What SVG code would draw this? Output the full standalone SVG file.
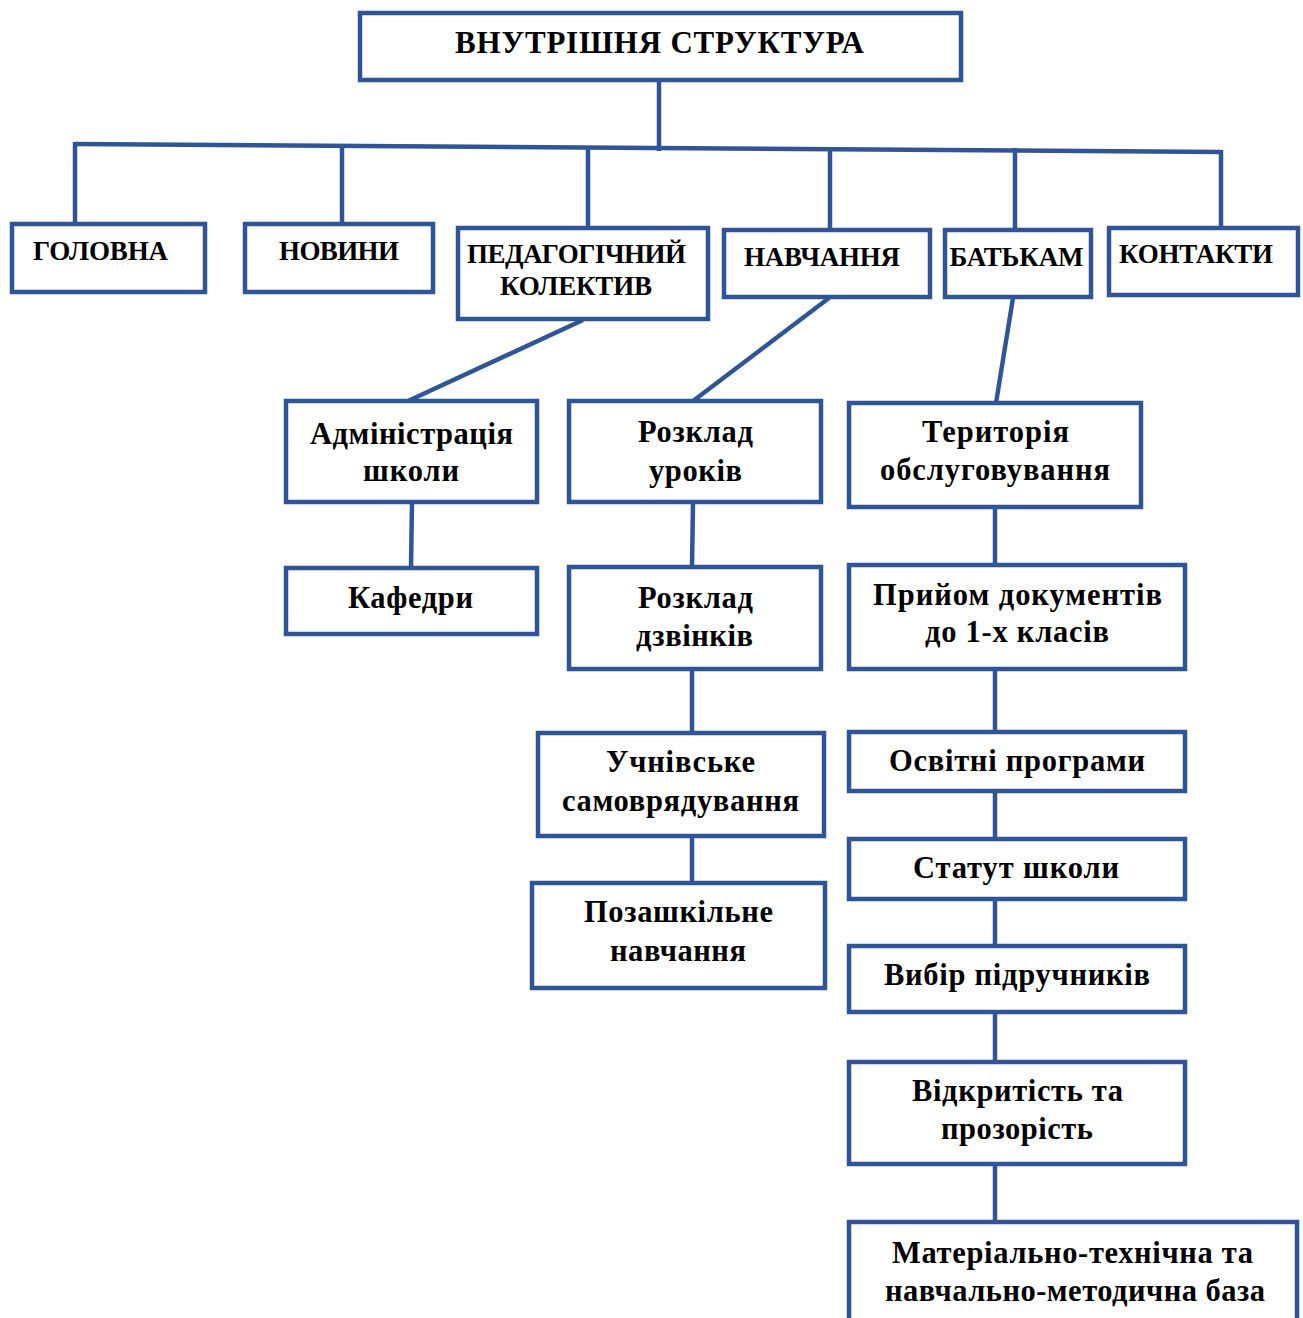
<svg xmlns="http://www.w3.org/2000/svg" width="1303" height="1318" viewBox="0 0 1303 1318">
  <style>
    .box { fill: #ffffff; stroke: #2F5597; stroke-width: 4.5; }
    .link { fill: none; stroke: #2F5597; stroke-width: 4.5; stroke-linecap: butt; }
    text { font-family: "Liberation Serif", "Times New Roman", serif; font-weight: bold; fill: #000000; text-anchor: middle; }
    .t0 { font-size: 31px; }
    .t1 { font-size: 27px; }
    .t2 { font-size: 30.5px; }
  </style>
  <rect width="1303" height="1318" fill="#ffffff"/>

  <!-- connectors -->
  <g id="connectors">
    <line class="link" x1="659" y1="80" x2="659" y2="151"/>
    <path class="link" d="M75,144 L1221,152"/>
    <line class="link" x1="75" y1="142" x2="75" y2="224"/>
    <line class="link" x1="342" y1="144" x2="342" y2="224"/>
    <line class="link" x1="588" y1="146" x2="588" y2="227"/>
    <line class="link" x1="830" y1="147" x2="830" y2="230"/>
    <line class="link" x1="1015" y1="148" x2="1015" y2="230"/>
    <line class="link" x1="1221" y1="150" x2="1221" y2="228"/>
    <!-- second level -->
    <line class="link" x1="583" y1="320" x2="408" y2="401"/>
    <line class="link" x1="829" y1="298" x2="693" y2="401"/>
    <line class="link" x1="1013" y1="298" x2="996" y2="403"/>
    <!-- left column -->
    <line class="link" x1="412" y1="502" x2="411" y2="568"/>
    <!-- middle column -->
    <line class="link" x1="693" y1="502" x2="692" y2="567"/>
    <line class="link" x1="692" y1="669" x2="692" y2="733"/>
    <line class="link" x1="692" y1="836" x2="692" y2="883"/>
    <!-- right column -->
    <line class="link" x1="995" y1="507" x2="995" y2="565"/>
    <line class="link" x1="995" y1="669" x2="995" y2="732"/>
    <line class="link" x1="995" y1="791" x2="995" y2="839"/>
    <line class="link" x1="995" y1="899" x2="995" y2="946"/>
    <line class="link" x1="995" y1="1012" x2="995" y2="1062"/>
    <line class="link" x1="995" y1="1164" x2="995" y2="1222"/>
  </g>

  <!-- root -->
  <g id="root">
    <rect class="box" x="360" y="13" width="601" height="67"/>
    <text class="t0" x="659.5" y="53" textLength="409">ВНУТРІШНЯ СТРУКТУРА</text>
  </g>

  <!-- top-level sections -->
  <g id="holovna">
    <rect class="box" x="12" y="224" width="193" height="68"/>
    <text class="t1" x="100.5" y="260" textLength="135">ГОЛОВНА</text>
  </g>
  <g id="novyny">
    <rect class="box" x="245" y="224" width="188" height="68"/>
    <text class="t1" x="339" y="260" textLength="120">НОВИНИ</text>
  </g>
  <g id="ped-kolektyv">
    <rect class="box" x="458" y="228" width="250" height="91"/>
    <text class="t1" x="576.5" y="263" textLength="219">ПЕДАГОГІЧНИЙ</text>
    <text class="t1" x="576" y="295" textLength="152">КОЛЕКТИВ</text>
  </g>
  <g id="navchannia">
    <rect class="box" x="724" y="230" width="206" height="67"/>
    <text class="t1" x="822" y="266" textLength="156">НАВЧАННЯ</text>
  </g>
  <g id="batkam">
    <rect class="box" x="945" y="230" width="146" height="67"/>
    <text class="t1" x="1016.5" y="266" textLength="134">БАТЬКАМ</text>
  </g>
  <g id="kontakty">
    <rect class="box" x="1109" y="228" width="189" height="67"/>
    <text class="t1" x="1196" y="263" textLength="154">КОНТАКТИ</text>
  </g>

  <!-- left column -->
  <g id="administratsiia">
    <rect class="box" x="286" y="401" width="251" height="101"/>
    <text class="t2" x="411.5" y="444" textLength="203">Адміністрація</text>
    <text class="t2" x="411" y="481" textLength="96">школи</text>
  </g>
  <g id="kafedry">
    <rect class="box" x="286" y="568" width="251" height="66"/>
    <text class="t2" x="410.5" y="608" textLength="125">Кафедри</text>
  </g>

  <!-- middle column -->
  <g id="rozklad-urokiv">
    <rect class="box" x="569" y="401" width="252" height="101"/>
    <text class="t2" x="695.5" y="442" textLength="115">Розклад</text>
    <text class="t2" x="695.5" y="481" textLength="93">уроків</text>
  </g>
  <g id="rozklad-dzvinkiv">
    <rect class="box" x="569" y="567" width="252" height="102"/>
    <text class="t2" x="695.5" y="608" textLength="115">Розклад</text>
    <text class="t2" x="694.5" y="646" textLength="117">дзвінків</text>
  </g>
  <g id="samovriaduvannia">
    <rect class="box" x="538" y="733" width="286" height="103"/>
    <text class="t2" x="680.5" y="772" textLength="149">Учнівське</text>
    <text class="t2" x="680.5" y="811" textLength="237">самоврядування</text>
  </g>
  <g id="pozashkilne">
    <rect class="box" x="532" y="883" width="293" height="105"/>
    <text class="t2" x="678.5" y="922" textLength="189">Позашкільне</text>
    <text class="t2" x="678" y="961" textLength="136">навчання</text>
  </g>

  <!-- right column -->
  <g id="terytoriia">
    <rect class="box" x="849" y="403" width="292" height="104"/>
    <text class="t2" x="995.5" y="442" textLength="147">Територія</text>
    <text class="t2" x="995" y="480" textLength="230">обслуговування</text>
  </g>
  <g id="pryiom">
    <rect class="box" x="849" y="565" width="336" height="104"/>
    <text class="t2" x="1017.5" y="605" textLength="289">Прийом документів</text>
    <text class="t2" x="1017" y="642" textLength="184">до 1-х класів</text>
  </g>
  <g id="osvitni-prohramy">
    <rect class="box" x="849" y="732" width="336" height="59"/>
    <text class="t2" x="1017" y="771" textLength="256">Освітні програми</text>
  </g>
  <g id="statut">
    <rect class="box" x="849" y="839" width="336" height="60"/>
    <text class="t2" x="1016" y="878" textLength="206">Статут школи</text>
  </g>
  <g id="vybir">
    <rect class="box" x="849" y="946" width="336" height="66"/>
    <text class="t2" x="1017" y="985" textLength="266">Вибір підручників</text>
  </g>
  <g id="vidkrytist">
    <rect class="box" x="849" y="1062" width="336" height="102"/>
    <text class="t2" x="1017.5" y="1101" textLength="211">Відкритість та</text>
    <text class="t2" x="1017" y="1139" textLength="152">прозорість</text>
  </g>
  <g id="baza">
    <rect class="box" x="849" y="1222" width="448" height="100"/>
    <text class="t2" x="1072.5" y="1263" textLength="361">Матеріально-технічна та</text>
    <text class="t2" x="1075" y="1301" textLength="380">навчально-методична база</text>
  </g>
</svg>
